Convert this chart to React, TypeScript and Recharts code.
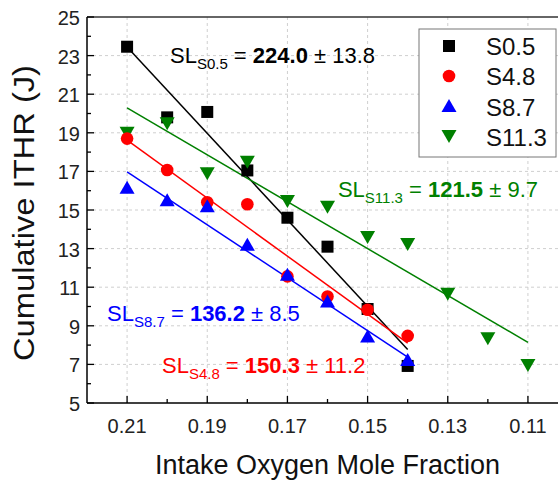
import {
  ComposedChart,
  Scatter,
  Line,
  XAxis,
  YAxis,
  CartesianGrid,
  ReferenceLine,
  ReferenceDot,
} from 'recharts';

const FONT = '"Liberation Sans", Arial, Helvetica, sans-serif';

// axis ticks
const xTicks = [0.21, 0.2, 0.19, 0.18, 0.17, 0.16, 0.15, 0.14, 0.13, 0.12, 0.11];
const xGrid = [0.21, 0.19, 0.17, 0.15, 0.13, 0.11];
const yTicks = [5, 6, 7, 8, 9, 10, 11, 12, 13, 14, 15, 16, 17, 18, 19, 20, 21, 22, 23, 24, 25];
const yGrid = [7, 9, 11, 13, 15, 17, 19, 21, 23];

// measured points
const s05 = [
  { x: 0.21, y: 23.46 },
  { x: 0.2, y: 19.8 },
  { x: 0.19, y: 20.08 },
  { x: 0.18, y: 17.05 },
  { x: 0.17, y: 14.6 },
  { x: 0.16, y: 13.1 },
  { x: 0.15, y: 9.87 },
  { x: 0.14, y: 6.92 },
];
const s48 = [
  { x: 0.21, y: 18.7 },
  { x: 0.2, y: 17.07 },
  { x: 0.19, y: 15.4 },
  { x: 0.18, y: 15.3 },
  { x: 0.17, y: 11.56 },
  { x: 0.16, y: 10.52 },
  { x: 0.15, y: 9.83 },
  { x: 0.14, y: 8.48 },
];
const s87 = [
  { x: 0.21, y: 16.15 },
  { x: 0.2, y: 15.5 },
  { x: 0.19, y: 15.2 },
  { x: 0.18, y: 13.2 },
  { x: 0.17, y: 11.65 },
  { x: 0.16, y: 10.26 },
  { x: 0.15, y: 8.44 },
  { x: 0.14, y: 7.23 },
];
const s113 = [
  { x: 0.21, y: 19.0 },
  { x: 0.2, y: 19.5 },
  { x: 0.19, y: 16.9 },
  { x: 0.18, y: 17.5 },
  { x: 0.17, y: 15.46 },
  { x: 0.16, y: 15.17 },
  { x: 0.15, y: 13.6 },
  { x: 0.14, y: 13.24 },
  { x: 0.13, y: 10.66 },
  { x: 0.12, y: 8.36 },
  { x: 0.11, y: 6.97 },
];

// linear fit end points
const fit05 = [{ x: 0.21, y: 23.45 }, { x: 0.14, y: 7.77 }];
const fit48 = [{ x: 0.21, y: 18.62 }, { x: 0.14, y: 8.1 }];
const fit87 = [{ x: 0.21, y: 16.97 }, { x: 0.14, y: 7.38 }];
const fit113 = [{ x: 0.21, y: 20.29 }, { x: 0.11, y: 8.14 }];

// slopes
const slopeNames = ['S0.5', 'S11.3', 'S8.7', 'S4.8'];
const slopeValues = ['224.0', '121.5', '136.2', '150.3'];
const slopeErrors = ['13.8', '9.7', '8.5', '11.2'];
const slopeColors = ['#000000', '#008000', '#0000ff', '#ff0000'];
const slopeAnchors = [
  { x: 0.1993, y: 22.62 },
  { x: 0.1574, y: 15.67 },
  { x: 0.215, y: 9.25 },
  { x: 0.2013, y: 6.55 },
];

const legendNames = ['S0.5', 'S4.8', 'S8.7', 'S11.3'];

const isMajorX = (v: number) => Math.round(v * 100) % 2 === 1;

function XTick(props: any) {
  const { x, y, payload } = props;
  const axisY = y - 16;
  const major = isMajorX(payload.value);
  return (
    <g>
      <line x1={x} x2={x} y1={axisY} y2={axisY - (major ? 7 : 4)} stroke="#000" strokeWidth={1.3} />
      {major && (
        <text x={x} y={axisY + 30} textAnchor="middle" fontSize={20} fill="#222" fontFamily={FONT}>
          {payload.value.toFixed(2)}
        </text>
      )}
    </g>
  );
}

function YTick(props: any) {
  const { x, y, payload } = props;
  const axisX = x + 7;
  const major = payload.value % 2 === 1;
  return (
    <g>
      <line x1={axisX} x2={axisX + (major ? 7 : 4)} y1={y} y2={y} stroke="#000" strokeWidth={1.3} />
      {major && (
        <text x={x} y={y + 8} textAnchor="end" fontSize={20} fill="#222" fontFamily={FONT}>
          {payload.value}
        </text>
      )}
    </g>
  );
}

const Square = (p: any) => <rect x={p.cx - 6} y={p.cy - 6} width={12} height={12} fill="#000" />;
const Dot = (p: any) => <circle cx={p.cx} cy={p.cy} r={6.3} fill="#ff0000" />;
const TriUp = (p: any) => (
  <polygon points={`${p.cx},${p.cy - 7} ${p.cx + 7.5},${p.cy + 6} ${p.cx - 7.5},${p.cy + 6}`} fill="#0000ff" />
);
const TriDown = (p: any) => (
  <polygon points={`${p.cx},${p.cy + 7} ${p.cx + 7.5},${p.cy - 6} ${p.cx - 7.5},${p.cy - 6}`} fill="#008000" />
);

function slopeLabel(i: number) {
  return (p: any) => {
    const vb = p.viewBox || {};
    return (
      <text x={vb.x} y={vb.y} fill={slopeColors[i]} fontSize={22} fontFamily={FONT}>
        SL
        <tspan fontSize={15} dy={6}>{slopeNames[i]}</tspan>
        <tspan dy={-6}> = </tspan>
        <tspan fontWeight="bold">{slopeValues[i]}</tspan>
        <tspan> ± {slopeErrors[i]}</tspan>
      </text>
    );
  };
}

function Legend() {
  const shapes = [
    <rect key="a" x={25} y={12} width={12} height={12} fill="#000" />,
    <circle key="b" cx={31} cy={48} r={6.3} fill="#ff0000" />,
    <polygon key="c" points="31,71 38.5,84 23.5,84" fill="#0000ff" />,
    <polygon key="d" points="31,115 38.5,102 23.5,102" fill="#008000" />,
  ];
  return (
    <svg width={139} height={130} style={{ position: 'absolute', left: 418, top: 28 }}>
      <rect x={1} y={1} width={137} height={128} fill="#fff" stroke="#777" strokeWidth={1} />
      {shapes}
      {legendNames.map((n, i) => (
        <text key={n} x={68} y={27 + i * 30.3} fontSize={24} fill="#111" fontFamily={FONT}>
          {n}
        </text>
      ))}
    </svg>
  );
}

export default function App() {
  return (
    <div style={{ position: 'absolute', left: 0, top: 0, width: 558, height: 489, background: '#fff', fontFamily: FONT }}>
      <ComposedChart width={558} height={489} margin={{ top: 17, right: 0, bottom: 0, left: 0 }}>
        <CartesianGrid stroke="#cfcfcf" strokeDasharray="3 3" horizontalValues={yGrid} verticalValues={xGrid} />
        <XAxis
          type="number"
          dataKey="x"
          domain={[0.1025, 0.22]}
          reversed
          allowDataOverflow
          ticks={xTicks}
          interval={0}
          height={86}
          tickSize={0}
          tickMargin={16}
          tickLine={false}
          axisLine={{ stroke: '#000', strokeWidth: 1.5 }}
          tick={<XTick />}
          label={{
            content: (p: any) => {
              const vb = p.viewBox;
              return (
                <text x={vb.x + vb.width / 2 + 5} y={vb.y + 71} textAnchor="middle" fontSize={27} fill="#111" fontFamily={FONT}>
                  Intake Oxygen Mole Fraction
                </text>
              );
            },
          }}
        />
        <YAxis
          type="number"
          domain={[5, 25]}
          allowDataOverflow
          ticks={yTicks}
          interval={0}
          width={87}
          tickSize={0}
          tickMargin={7}
          tickLine={false}
          axisLine={{ stroke: '#000', strokeWidth: 1.5 }}
          tick={<YTick />}
          label={{
            content: (p: any) => {
              const vb = p.viewBox;
              const cx = 34;
              const cy = vb.y + vb.height / 2 + 3;
              return (
                <text
                  x={cx}
                  y={cy}
                  transform={`rotate(-90, ${cx}, ${cy})`}
                  textAnchor="middle"
                  fontSize={29}
                  textLength={296}
                  lengthAdjust="spacingAndGlyphs"
                  fill="#111"
                  fontFamily={FONT}
                >
                  Cumulative ITHR (J)
                </text>
              );
            },
          }}
        />
        <ReferenceLine y={25} stroke="#333" strokeWidth={1.5} />

        <Line data={fit05} dataKey="y" stroke="#000" strokeWidth={1.5} dot={false} isAnimationActive={false} />
        <Line data={fit48} dataKey="y" stroke="#ff0000" strokeWidth={1.5} dot={false} isAnimationActive={false} />
        <Line data={fit87} dataKey="y" stroke="#0000ff" strokeWidth={1.5} dot={false} isAnimationActive={false} />
        <Line data={fit113} dataKey="y" stroke="#008000" strokeWidth={1.5} dot={false} isAnimationActive={false} />

        <Scatter data={s05} dataKey="y" shape={Square} isAnimationActive={false} />
        <Scatter data={s113} dataKey="y" shape={TriDown} isAnimationActive={false} />
        <Scatter data={s48} dataKey="y" shape={Dot} isAnimationActive={false} />
        <Scatter data={s87} dataKey="y" shape={TriUp} isAnimationActive={false} />

        {slopeAnchors.map((a, i) => (
          <ReferenceDot key={slopeNames[i]} x={a.x} y={a.y} r={0} fill="none" stroke="none" label={{ content: slopeLabel(i) }} />
        ))}
      </ComposedChart>
      <Legend />
    </div>
  );
}
